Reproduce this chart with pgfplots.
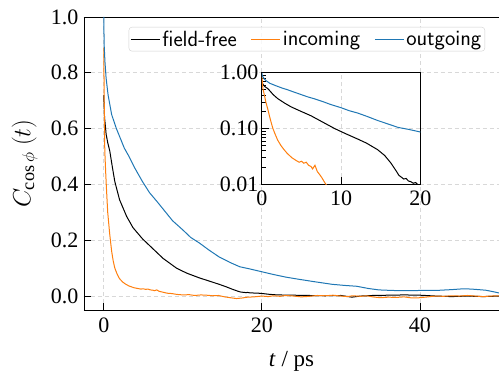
\documentclass[border=0pt]{standalone}
\usepackage{fontspec}
\setmainfont{Liberation Serif}
\usepackage{pgfplots}
\usepackage{pgfplotstable}
\pgfplotsset{compat=1.18}
\definecolor{tabblue}{HTML}{1F77B4}
\definecolor{taborange}{HTML}{FF7F0E}
\definecolor{gridgray}{HTML}{D8D8D8}

\pgfplotstableread{
t C
0 0.72
0.1 0.64
0.3 0.58
0.5 0.55
0.76 0.52
1.1 0.46
1.4 0.41
2.0 0.345
2.9 0.285
3.7 0.245
4.9 0.205
6.2 0.17
7.5 0.135
9.2 0.10
10.5 0.082
12.1 0.065
13.2 0.055
14.6 0.042
15.5 0.033
16.3 0.024
17.0 0.017
17.3 0.0145
17.6 0.0135
17.9 0.0125
18.2 0.0128
18.5 0.0115
18.8 0.0112
19.1 0.0105
19.4 0.0108
19.7 0.0098
20.0 0.0092
21 0.006
22 0.004
24 0.003
26 0.002
28 0.001
30 0.002
31.4 -0.004
32.5 0.0
34 0.002
36 0.003
38 0.004
40 0.003
42 0.0
44 -0.002
46 0.0
48 -0.002
50 0.0
}\fieldfree

\pgfplotstableread{
t C
0 0.89
0.05 0.72
0.13 0.52
0.25 0.44
0.35 0.38
0.5 0.30
0.76 0.22
1.0 0.16
1.2 0.125
1.4 0.10
1.7 0.078
2.0 0.062
2.4 0.05
2.8 0.042
3.2 0.036
3.8 0.03
4.3 0.027
4.7 0.025
5.0 0.026
5.3 0.024
5.6 0.025
5.9 0.022
6.2 0.021
6.4 0.019
6.7 0.022
7.0 0.017
7.3 0.015
7.6 0.013
7.9 0.011
8.2 0.0095
8.6 0.009
9.2 0.006
10 0.004
10.8 0.005
11.5 0.002
12.3 0.004
13 0.003
13.8 0.001
14.5 0.002
15.3 -0.003
16 -0.006
16.8 -0.009
17.5 -0.007
18.2 -0.004
19 -0.003
20 0.0
20.8 -0.002
21.5 0.001
22.3 -0.001
23 0.002
24 0.0
25 -0.003
26 -0.001
27 0.002
28 0.001
29 0.003
30 0.0
30.8 -0.002
31.5 0.001
32.5 -0.001
33.3 0.001
34 -0.003
35 -0.006
36 -0.004
37 -0.005
38 -0.003
39 -0.007
40 -0.006
41 -0.003
42 0.0
43 -0.001
44 0.001
45 0.0
46 0.002
47 0.0
48 -0.002
49 0.0
50 0.001
}\incoming

\pgfplotstableread{
t C
0 1.0
0.05 0.90
0.15 0.84
0.3 0.78
0.55 0.72
1.0 0.65
1.6 0.60
2.6 0.53
3.1 0.505
3.9 0.46
4.9 0.41
5.8 0.37
6.7 0.34
7.7 0.305
8.7 0.27
10 0.237
11 0.21
12.1 0.19
13.3 0.165
14.6 0.14
16 0.12
17.2 0.105
18.5 0.097
20 0.087
21.5 0.077
23 0.068
24.7 0.06
26.5 0.052
28.9 0.042
30.5 0.038
32 0.035
33.5 0.027
34.8 0.022
36.5 0.02
38.2 0.019
40 0.02
42 0.02
44 0.023
45.5 0.026
46.5 0.025
48.3 0.021
49.2 0.016
50 0.011
}\outgoing

\begin{document}
\begin{tikzpicture}
\begin{axis}[
  name=main,
  at={(0,0)}, anchor=south west,
  scale only axis,
  width=415pt, height=293pt,
  xmin=-2.5, xmax=50, ymin=-0.05, ymax=1.0,
  axis x line*=box, axis y line*=left,
  xtick pos=bottom, ytick pos=left,
  tick align=inside,
  major tick length=7pt,
  xtick={0,20,40},
  ytick={0,0.2,0.4,0.6,0.8,1.0},
  /pgf/number format/assume math mode=true,
  ticklabel style={font=\fontsize{22}{24}\selectfont},
  xticklabel style={yshift=-4pt},
  yticklabel style={xshift=-2pt, /pgf/number format/.cd, fixed, fixed zerofill, precision=1},
  every tick/.style={black, line width=0.9pt},
  axis line style={black, line width=0.9pt},
  grid=major,
  major grid style={gridgray, dash pattern=on 4pt off 3pt, line width=0.8pt},
  xlabel={\textit{t} / ps},
  ylabel={$C_{\cos\phi}\ (t)$},
  xlabel style={font=\fontsize{23}{25}\selectfont, at={(axis description cs:0.5,-0.175)}, anchor=center},
  ylabel style={font=\fontsize{26}{28}\selectfont, at={(axis description cs:-0.143,0.5)}, anchor=center},
  legend columns=3,
  legend style={at={(1,1)}, anchor=north east, xshift=-14pt, yshift=-10pt,
    font=\sffamily\fontsize{22}{24}\selectfont,
    draw=black!18, rounded corners=3pt, fill=white, fill opacity=0.8, text opacity=1,
    inner sep=1.5pt},
  legend image code/.code={\path (0pt,0pt) -- (29pt,0pt); \draw[#1, line width=1pt] (3pt,0pt) -- (23pt,0pt);},
  legend cell align=left,
]
\addplot[black, line width=1pt] table[x=t, y=C] {\fieldfree};
\addlegendentry{field-free\rule{12pt}{0pt}}
\addplot[taborange, line width=1pt] table[x=t, y=C] {\incoming};
\addlegendentry{incoming\rule{12pt}{0pt}}
\addplot[tabblue, line width=1pt] table[x=t, y=C] {\outgoing};
\addlegendentry{outgoing}
\coordinate (ins) at (axis cs:20,0.4);
\end{axis}

\begin{axis}[
  at={(ins)}, anchor=south west,
  scale only axis,
  width=158.5pt, height=111.6pt,
  xmin=0, xmax=20, ymin=0.01, ymax=1,
  ymode=log,
  axis background/.style={fill=white},
  xtick={0,10,20},
  ytick={0.01,0.1,1},
  yticklabels={0.01,0.10,1.00},
  /pgf/number format/assume math mode=true,
  xtick pos=bottom, ytick pos=left,
  tick align=inside,
  major tick length=7pt, minor tick length=4pt,
  every tick/.style={black, line width=0.8pt},
  axis line style={black, line width=0.9pt},
  ticklabel style={font=\fontsize{22}{24}\selectfont},
  xticklabel style={yshift=-3pt},
  grid=major,
  major grid style={gridgray, dash pattern=on 4pt off 3pt, line width=0.8pt},
]
\addplot[black, line width=1pt, restrict x to domain=0:20.5] table[x=t, y=C] {\fieldfree};
\addplot[taborange, line width=1pt, restrict x to domain=0:9.3] table[x=t, y=C] {\incoming};
\addplot[tabblue, line width=1pt] table[x=t, y=C] {\outgoing};
\end{axis}
\pgfresetboundingbox
\path[use as bounding box] (-84pt,-64pt) rectangle (415pt,310pt);
\end{tikzpicture}
\end{document}
